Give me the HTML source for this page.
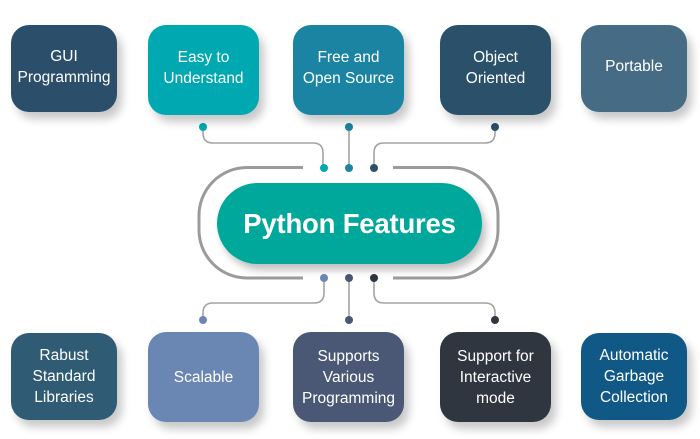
<!DOCTYPE html>
<html>
<head>
<meta charset="utf-8">
<style>
  html,body{margin:0;padding:0;}
  body{width:700px;height:439px;background:#fff;position:relative;overflow:hidden;font-family:"Liberation Sans",sans-serif;}
  .box{position:absolute;border-radius:18px;color:#fff;display:flex;align-items:center;justify-content:center;text-align:center;font-size:15.5px;line-height:21px;box-shadow:5px 7px 9px rgba(0,0,0,0.22);box-sizing:border-box;}
  .top{padding-bottom:4px;}
  svg{position:absolute;left:0;top:0;}
  .pill{position:absolute;left:217px;top:183px;width:265px;height:81px;border-radius:40.5px;background:#00a79b;color:#fff;font-weight:bold;font-size:27.5px;display:flex;align-items:center;justify-content:center;box-shadow:4px 6px 8px rgba(0,0,0,0.25);letter-spacing:-0.2px;}
</style>
</head>
<body>
<svg width="700" height="439" viewBox="0 0 700 439">
  <g fill="none" stroke="#a3a3a3" stroke-width="1.6">
    <path d="M203,127 V133 Q203,143 213,143 H313 Q323,143 323,153 V168"/>
    <path d="M349,127 V168"/>
    <path d="M495,127 V133 Q495,143 485,143 H384 Q374,143 374,153 V168"/>
    <path d="M324,278 V293 Q324,303 314,303 H213 Q203,303 203,313 V320"/>
    <path d="M349,278 V320"/>
    <path d="M374,278 V293 Q374,303 384,303 H485 Q495,303 495,313 V320"/>
  </g>
  <g fill="none" stroke="#9b9b9b" stroke-width="3">
    <path d="M303,167.5 H247 A48,48 0 0 0 199,215.5 V230 A48,48 0 0 0 247,278 H303"/>
    <path d="M393,167.5 H450 A48,48 0 0 1 498,215.5 V230 A48,48 0 0 1 450,278 H393"/>
  </g>
  <circle cx="203" cy="127" r="4" fill="#00a9b1"/>
  <circle cx="349" cy="127" r="4" fill="#1a84a2"/>
  <circle cx="495" cy="127" r="4" fill="#2a5169"/>
  <circle cx="324" cy="168" r="4" fill="#00a9b1"/>
  <circle cx="349" cy="168" r="4" fill="#1a84a2"/>
  <circle cx="374" cy="168" r="4" fill="#2a5169"/>
  <circle cx="324" cy="278" r="4" fill="#6a87b4"/>
  <circle cx="349" cy="278" r="4" fill="#4a5876"/>
  <circle cx="374" cy="278" r="4" fill="#2f3640"/>
  <circle cx="203" cy="320" r="4" fill="#6a87b4"/>
  <circle cx="349" cy="320" r="4" fill="#4a5876"/>
  <circle cx="495" cy="320" r="4" fill="#2f3640"/>
</svg>

<div class="box top" style="left:11px;top:25px;width:106px;height:87px;background:#2b4f6a;">GUI<br>Programming</div>
<div class="box top" style="left:148px;top:25px;width:111px;height:90px;background:#00a9b1;">Easy to<br>Understand</div>
<div class="box top" style="left:293px;top:25px;width:111px;height:90px;background:#1a84a2;">Free and<br>Open Source</div>
<div class="box top" style="left:440px;top:25px;width:111px;height:90px;background:#2a5169;">Object<br>Oriented</div>
<div class="box top" style="left:581px;top:25px;width:106px;height:87px;background:#456b85;">Portable</div>

<div class="pill">Python Features</div>

<div class="box" style="left:11px;top:333px;width:106px;height:87px;background:#305b74;">Rabust<br>Standard<br>Libraries</div>
<div class="box" style="left:148px;top:332px;width:111px;height:90px;background:#6a87b4;">Scalable</div>
<div class="box" style="left:293px;top:332px;width:111px;height:90px;background:#4a5876;">Supports<br>Various<br>Programming</div>
<div class="box" style="left:440px;top:332px;width:111px;height:90px;background:#2f3640;">Support for<br>Interactive<br>mode</div>
<div class="box" style="left:581px;top:333px;width:106px;height:87px;background:#105885;">Automatic<br>Garbage<br>Collection</div>
</body>
</html>
